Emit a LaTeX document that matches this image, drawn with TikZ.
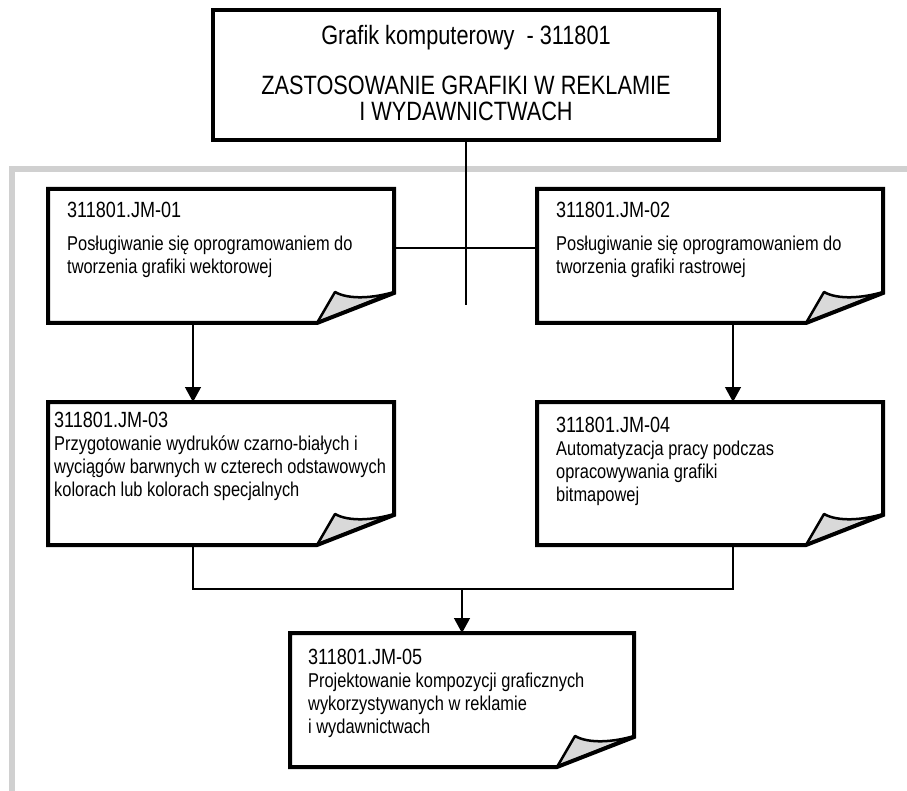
\documentclass[tikz,border=0pt]{standalone}
\usepackage{fontspec}
\setmainfont{Liberation Sans}[FakeStretch=0.82]
\usetikzlibrary{calc,arrows.meta}

\definecolor{framegray}{HTML}{D0D0D0}
\definecolor{flapgray}{HTML}{D9D9D9}

% folded-corner outline around an (empty) card node
\newcommand\foldcard[1]{%
  \draw[flap] ($(#1.south east)+(-77,0)$) -- ($(#1.south east)+(-59,-31)$)
     .. controls ($(#1.south east)+(-45,-23)$) and ($(#1.south east)+(-20,-25)$)
     .. ($(#1.south east)+(0,-31)$) -- cycle;
  \draw[cardline] (#1.north west) -- (#1.north east) -- ($(#1.south east)+(0,-30)$)
     -- ($(#1.south east)+(-77,0)$) -- (#1.south west) -- cycle;
}

\begin{document}
\begin{tikzpicture}[x=1pt,y=-1pt,
  frame/.style={draw=framegray, line width=6pt},
  card/.style={rectangle, inner sep=0pt, outer sep=0pt, minimum width=346pt},
  cardline/.style={line width=4pt},
  flap/.style={fill=flapgray, draw=black, line width=2.5pt, line join=round},
  wire/.style={line width=1.3pt},
  arrow/.style={wire, -{Triangle[length=15pt,width=16pt]}},
  % multi-line labels: the base anchor sits on the last line
  label/.style={anchor=base west, inner sep=0pt, align=left, font=\fontsize{20}{23}\selectfont}
]
\useasboundingbox (0,0) rectangle (907,791);

% grey frame
\draw[frame] (12,791) -- (12,169) -- (907,169);

% title box
\node[draw, line width=4pt, inner sep=0pt, minimum width=506pt, minimum height=130pt] (title) at (466,75) {};
\node[anchor=base, inner sep=0pt, font=\fontsize{26.5}{26}\selectfont] (qual) at (466,45) {Grafik komputerowy\ \ - 311801};
\node[anchor=base, inner sep=0pt, align=center, font=\fontsize{26.5}{26}\selectfont] (area) at (466,121) {ZASTOSOWANIE GRAFIKI W REKLAMIE\\I WYDAWNICTWACH};

% unit cards
\node[card, minimum height=134pt] (m1) at (221,256) {};
\node[card, minimum height=134pt] (m2) at (710,256) {};
\node[card, minimum height=143pt] (m3) at (221,473.5) {};
\node[card, minimum height=143pt] (m4) at (710,473.5) {};
\node[card, minimum width=344pt, minimum height=134pt] (m5) at (462,700) {};
\foldcard{m1}
\foldcard{m2}
\foldcard{m3}
\foldcard{m4}
\foldcard{m5}

% card texts
\node[label] (t1) at (67,274) {{\fontsize{22}{23}\selectfont 311801.JM-01}\\[10pt]Posługiwanie się oprogramowaniem do\\tworzenia grafiki wektorowej};
\node[label] (t2) at (556,274) {{\fontsize{22}{23}\selectfont 311801.JM-02}\\[10pt]Posługiwanie się oprogramowaniem do\\tworzenia grafiki rastrowej};
\node[label] (t3) at (54,496) {{\fontsize{22}{23}\selectfont 311801.JM-03}\\Przygotowanie wydruków czarno-białych i\\wyciągów barwnych w czterech odstawowych\\kolorach lub kolorach specjalnych};
\node[label] (t4) at (556,501) {{\fontsize{22}{23}\selectfont 311801.JM-04}\\Automatyzacja pracy podczas\\opracowywania grafiki\\bitmapowej};
\node[label] (t5) at (308,733) {{\fontsize{22}{23}\selectfont 311801.JM-05}\\Projektowanie kompozycji graficznych\\wykorzystywanych w reklamie\\i wydawnictwach};

% connectors
\coordinate (hub) at (466,248);
\coordinate (stem) at (466,305);
\coordinate (la) at (193,589);
\coordinate (ra) at (733,589);
\draw[wire] (title.south) -- (stem);
\draw[wire] (m1.east |- hub) -- (m2.west |- hub);
\draw[arrow] (m1.south -| la) -- (m3.north -| la);
\draw[arrow] (m2.south -| ra) -- (m4.north -| ra);
\draw[wire] (m3.south -| la) -- (la) -- (ra) -- (m4.south -| ra);
\draw[arrow] (m5.north |- la) -- (m5.north);
\end{tikzpicture}
\end{document}
